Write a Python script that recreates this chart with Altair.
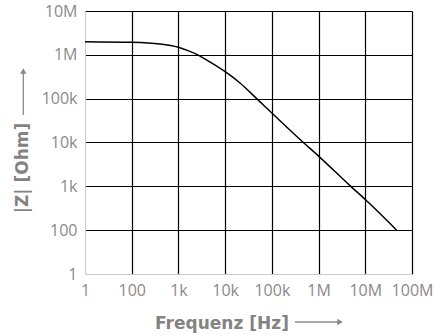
import altair as alt
import pandas as pd

# Curve (frequency in Hz, impedance in Ohm)
freq = [10, 100, 403, 1000, 1600, 2600, 4700, 10000, 20800, 47400, 100000,
        472000, 1000000, 4880000, 10000000, 47000000]
impedance = [2.0e6, 1.93e6, 1.77e6, 1.49e6, 1.25e6, 1.0e6, 6.9e5, 4.12e5,
             2.28e5, 1.0e5, 4.7e4, 1.0e4, 4.9e3, 1.0e3, 500, 100]

x_ticks = [10, 100, 1e3, 1e4, 1e5, 1e6, 1e7, 1e8]
x_labels = ["1", "100", "1k", "10k", "100k", "1M", "10M", "100M"]
y_ticks = [10, 100, 1e3, 1e4, 1e5, 1e6, 1e7]
y_labels = ["1", "100", "1k", "10k", "100k", "1M", "10M"]

df = pd.DataFrame({"f": freq, "z": impedance})


def label_expr(ticks, labels):
    expr = "''"
    for t, l in reversed(list(zip(ticks, labels))):
        e = len(str(int(t))) - 1
        expr = f"(round(log(datum.value)/LN10) == {e} ? '{l}' : {expr})"
    return expr


LABEL_COLOR = "#8a8a8a"
TITLE_COLOR = "#838383"
FONT = "Open Sans"
TITLE_FONT = "DejaVu Sans"
GRID = {"condition": {"test": "datum.value < 50", "value": "#cccccc"}, "value": "#000000"}

x_axis = alt.Axis(
    values=x_ticks,
    labelExpr=label_expr(x_ticks, x_labels),
    title="Frequenz [Hz]",
    ticks=False,
    labelFlush=False,
    labelOverlap=False,
    labelPadding=8,
    labelFontSize=16,
    labelColor=LABEL_COLOR,
    labelFont=FONT,
    titleFont=TITLE_FONT,
    titleFontSize=17,
    titleFontWeight="bold",
    titleColor=TITLE_COLOR,
    titleAlign="center",
    titleBaseline="alphabetic",
    titleX=136.5,
    titleY=54,
    domainColor="#cccccc",
    gridColor=GRID,
    gridWidth=1.2,
)
y_axis = alt.Axis(
    values=y_ticks,
    labelExpr=label_expr(y_ticks, y_labels),
    title="|Z| [Ohm]",
    ticks=False,
    labelFlush=False,
    labelOverlap=False,
    labelPadding=8,
    labelFontSize=16,
    labelColor=LABEL_COLOR,
    labelFont=FONT,
    titleFont=TITLE_FONT,
    titleFontSize=17,
    titleFontWeight="bold",
    titleColor=TITLE_COLOR,
    titleAlign="center",
    titleBaseline="middle",
    titleX=-62.5,
    titleY=156.5,
    domainColor="#cccccc",
    gridColor=GRID,
    gridWidth=1.2,
)

curve = (
    alt.Chart(df)
    .mark_line(color="black", strokeWidth=1.5, interpolate="monotone")
    .encode(
        x=alt.X("f:Q", scale=alt.Scale(type="log", domain=[10, 1e8], nice=False), axis=x_axis),
        y=alt.Y("z:Q", scale=alt.Scale(type="log", domain=[10, 1e7], nice=False), axis=y_axis),
    )
)

deco = pd.DataFrame({"k": [0]})
x_arrow_line = alt.Chart(deco).mark_rule(color=LABEL_COLOR, strokeWidth=1.3).encode(
    x=alt.value(210), x2=alt.value(255), y=alt.value(311)
)
x_arrow_head = alt.Chart(deco).mark_point(
    shape="triangle-right", filled=True, color=LABEL_COLOR, size=40, opacity=1
).encode(x=alt.value(255), y=alt.value(311))
y_arrow_line = alt.Chart(deco).mark_rule(color=LABEL_COLOR, strokeWidth=1.3).encode(
    x=alt.value(-61.7), y=alt.value(104), y2=alt.value(60)
)
y_arrow_head = alt.Chart(deco).mark_point(
    shape="triangle-up", filled=True, color=LABEL_COLOR, size=40, opacity=1
).encode(x=alt.value(-61.7), y=alt.value(60))

chart = (
    alt.layer(curve, x_arrow_line, x_arrow_head, y_arrow_line, y_arrow_head)
    .properties(
        width=327,
        height=263,
        autosize=alt.AutoSizeParams(type="none"),
        padding={"left": 85, "top": 11, "right": 31, "bottom": 61},
    )
    .configure_view(strokeWidth=0)
)

chart.save("out.html", embed_options={"renderer": "svg", "actions": False})
